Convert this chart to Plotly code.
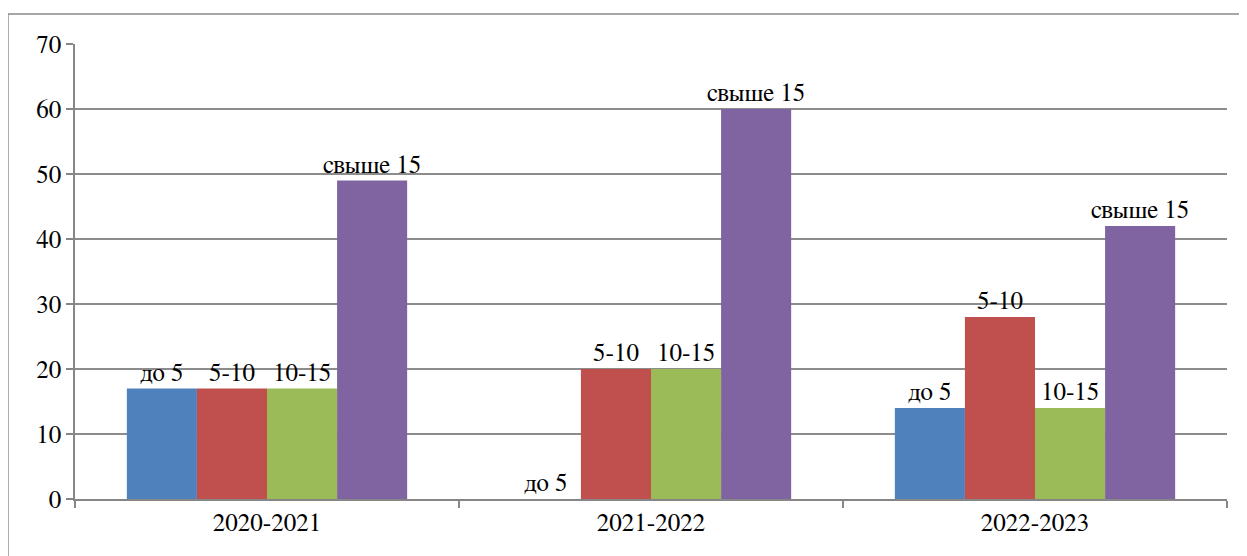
import plotly.graph_objects as go

categories = ["2020-2021", "2021-2022", "2022-2023"]
series_names = ["до 5", "5-10", "10-15", "свыше 15"]
vals_do5 = [17, 0, 14]
vals_5_10 = [17, 20, 28]
vals_10_15 = [17, 20, 14]
vals_over15 = [49, 60, 42]
colors = ["#4F81BD", "#C0504D", "#9BBB59", "#8064A2"]

series_values = [vals_do5, vals_5_10, vals_10_15, vals_over15]

FONT = "FreeSerif, Liberation Serif, serif"
FS = 25


def serif_font(size=FS):
    return dict(family=FONT, size=size, color="black", weight="normal")


fig = go.Figure()
for name, vals, col in zip(series_names, series_values, colors):
    fig.add_trace(go.Bar(
        x=categories, y=vals, name=name,
        marker=dict(color=col, line=dict(width=0)),
        text=[name] * len(vals),
        textposition="outside",
        textfont=serif_font(),
        constraintext="none",
        cliponaxis=False,
        hoverinfo="x+y+name",
    ))

fig.update_layout(
    width=1239, height=548,
    margin=dict(l=67, r=20, t=36, b=57, autoexpand=False),
    barmode="group",
    bargap=0.27,
    bargroupgap=0,
    showlegend=False,
    plot_bgcolor="white",
    paper_bgcolor="white",
    font=serif_font(),
    xaxis=dict(
        automargin=False,
        showline=True, linecolor="#868686", linewidth=1.5,
        ticks="outside", tickson="boundaries", ticklen=7,
        tickcolor="#868686", tickwidth=1.5,
        showgrid=False,
        tickfont=serif_font(),
    ),
    yaxis=dict(
        automargin=False,
        range=[0, 70], dtick=10,
        showline=True, linecolor="#868686", linewidth=1.5,
        ticks="outside", ticklen=7, tickcolor="#868686", tickwidth=1.5,
        showgrid=True, gridcolor="#8C8C8C", gridwidth=1.5,
        zeroline=False,
        tickfont=serif_font(),
    ),
    shapes=[dict(
        type="rect", xref="paper", yref="paper",
        x0=-0.0582, x1=1.03, y0=-0.14, y1=1.0659,
        line=dict(color="#8A8A8A", width=1.5),
        fillcolor="rgba(0,0,0,0)", layer="below",
    )],
)

fig.write_html("out.html")
